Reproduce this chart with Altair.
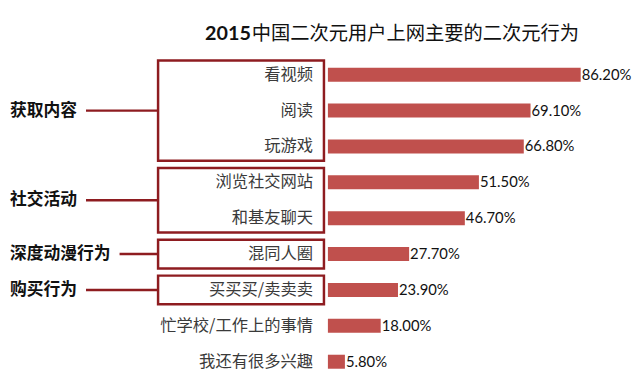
import altair as alt
import pandas as pd

title_year = "2015"
title_rest = "中国二次元用户上网主要的二次元行为"
categories = ["看视频", "阅读", "玩游戏", "浏览社交网站", "和基友聊天",
              "混同人圈", "买买买/卖卖卖", "忙学校/工作上的事情", "我还有很多兴趣"]
values = [86.2, 69.1, 66.8, 51.5, 46.7, 27.7, 23.9, 18.0, 5.8]
groups = ["获取内容", "社交活动", "深度动漫行为", "购买行为"]
group_start = [0, 3, 5, 6]
group_end = [2, 4, 5, 6]

CJK = "Noto Sans CJK SC"
BAR = "#C0504D"
BOX = "#8E1C20"

df = pd.DataFrame({"cat": categories, "value": values, "idx": list(range(len(categories)))})
gdf = pd.DataFrame({"group": groups, "s": group_start, "e": group_end})
gdf["mid"] = (gdf["s"] + gdf["e"]) / 2
gdf["nchar"] = gdf["group"].str.len()

yscale = alt.Scale(domain=[-0.5, len(categories) - 0.5], reverse=True)
xscale = alt.Scale(domain=[0, 100])
# pixel-like scale for left annotations (page x coordinates)
pix = alt.Scale(domain=[0, 640], range=[-327, 313])

base = alt.Chart(df).transform_calculate(
    lo="datum.idx - 0.195", hi="datum.idx + 0.195", zero="0",
    label="format(datum.value, '.2f') + '%'"
)

bars = base.mark_rect(color=BAR).encode(
    x=alt.X("zero:Q", scale=xscale, axis=None),
    x2="value:Q",
    y=alt.Y("lo:Q", scale=yscale,
            axis=alt.Axis(title=None, labels=False, ticks=False, grid=False,
                          domainColor="#BFBFBF", domainWidth=1)),
    y2="hi:Q",
)

vals = base.mark_text(align="left", baseline="middle", dx=1, font="Lato",
                      fontSize=15, color="#111111").encode(
    x=alt.X("value:Q", scale=xscale, axis=None),
    y=alt.Y("idx:Q", scale=yscale, axis=None),
    text="label:N",
)

cats = base.mark_text(align="right", baseline="middle", font=CJK,
                      fontSize=16.5, color="#3A3A3A").encode(
    x=alt.value(-15),
    y=alt.Y("idx:Q", scale=yscale, axis=None),
    text="cat:N",
)

gbase = alt.Chart(gdf).transform_calculate(
    top="datum.s - 0.4", bot="datum.e + 0.4",
    bx0="155", bx1="323", lx0="5 + datum.nchar * 17 + 9"
)

boxes = gbase.mark_rect(fillOpacity=0, stroke=BOX, strokeWidth=2.5).encode(
    x=alt.X("bx0:Q", scale=pix, axis=None),
    x2="bx1:Q",
    y=alt.Y("top:Q", scale=yscale, axis=None),
    y2="bot:Q",
)

links = gbase.mark_rule(stroke=BOX, strokeWidth=2.5).encode(
    x=alt.X("lx0:Q", scale=pix, axis=None),
    x2="bx0:Q",
    y=alt.Y("mid:Q", scale=yscale, axis=None),
)

glabels = gbase.mark_text(align="left", baseline="middle", font=CJK,
                          fontSize=17, fontWeight="bold", color="#111111").encode(
    x=alt.value(-322),
    y=alt.Y("mid:Q", scale=yscale, axis=None),
    text="group:N",
)

tdf = pd.DataFrame({"a": [title_year], "b": [title_rest]})
title_a = alt.Chart(tdf).mark_text(
    align="right", baseline="middle", font="Lato", fontSize=20,
    fontWeight="bold", color="#111111"
).encode(x=alt.value(-78), y=alt.value(-23), text="a:N")
title_b = alt.Chart(tdf).mark_text(
    align="left", baseline="middle", font=CJK, fontSize=19.5,
    fontWeight="normal", color="#111111"
).encode(x=alt.value(-77), y=alt.value(-23), text="b:N")

chart = alt.layer(bars, vals, cats, boxes, links, glabels, title_a, title_b).resolve_scale(
    x="independent"
).properties(
    width=297, height=327,
    padding={"left": 324, "top": 47, "right": 11, "bottom": 5},
    autosize="none",
    background="white",
).configure_view(stroke=None)

chart.save("out.html", embed_options={"renderer": "svg", "actions": False})
